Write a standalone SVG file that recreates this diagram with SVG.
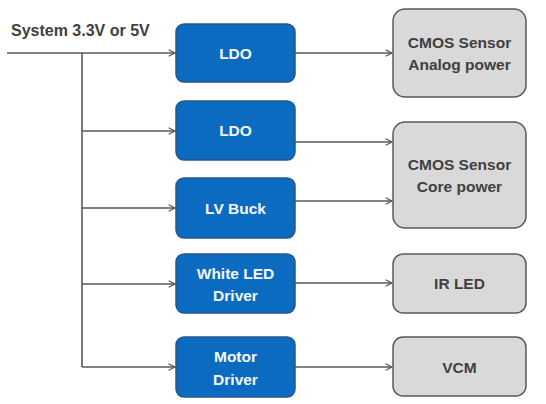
<svg xmlns="http://www.w3.org/2000/svg" width="546" height="404" viewBox="0 0 546 404">
<defs>
<style>
.blue{fill:#0b6bc0;stroke:#24578c;stroke-width:1.5}
.gray{fill:#d9d9d9;stroke:#595959;stroke-width:1.5}
.wt{fill:#f4f9ff;font-family:"Liberation Sans",Arial,sans-serif;font-weight:bold;font-size:15.5px;text-anchor:middle}
.gt{fill:#404040;font-family:"Liberation Sans",Arial,sans-serif;font-weight:bold;font-size:15.5px;text-anchor:middle}
.ln{fill:none;stroke:#595959;stroke-width:1.6}
</style>
<marker id="arr" viewBox="0 0 10 10" refX="9" refY="5" markerWidth="8" markerHeight="8" markerUnits="userSpaceOnUse" orient="auto">
<path d="M1,1 L9,5 L1,9" fill="none" stroke="#595959" stroke-width="1.5"/>
</marker>
</defs>
<rect width="546" height="404" fill="#ffffff"/>
<text x="11" y="36" style="fill:#404040;font-family:'Liberation Sans',Arial,sans-serif;font-weight:bold;font-size:16px">System 3.3V or 5V</text>
<g id="connectors">
<path class="ln" d="M7,53 H175" marker-end="url(#arr)"/>
<path class="ln" d="M82,53 V367"/>
<path class="ln" d="M82,131 H175" marker-end="url(#arr)"/>
<path class="ln" d="M82,208 H175" marker-end="url(#arr)"/>
<path class="ln" d="M82,284 H175" marker-end="url(#arr)"/>
<path class="ln" d="M82,367 H175" marker-end="url(#arr)"/>
<path class="ln" d="M295,53 H392" marker-end="url(#arr)"/>
<path class="ln" d="M295,142 H392" marker-end="url(#arr)"/>
<path class="ln" d="M295,201 H392" marker-end="url(#arr)"/>
<path class="ln" d="M295,283 H392" marker-end="url(#arr)"/>
<path class="ln" d="M295,367 H392" marker-end="url(#arr)"/>
</g>
<g id="ldo1"><rect class="blue" x="176" y="24" width="119" height="58" rx="8"/><text class="wt" x="235.5" y="59">LDO</text></g>
<g id="ldo2"><rect class="blue" x="176" y="101" width="119" height="59" rx="8"/><text class="wt" x="235.5" y="136">LDO</text></g>
<g id="lvbuck"><rect class="blue" x="176" y="178" width="119" height="60" rx="8"/><text class="wt" x="235.5" y="214">LV Buck</text></g>
<g id="wled"><rect class="blue" x="176" y="254" width="119" height="59" rx="8"/><text class="wt" x="235.5" y="279">White LED</text><text class="wt" x="235.5" y="301">Driver</text></g>
<g id="motor"><rect class="blue" x="176" y="337" width="119" height="60" rx="8"/><text class="wt" x="235.5" y="362">Motor</text><text class="wt" x="235.5" y="385">Driver</text></g>
<g id="analog"><rect class="gray" x="393" y="9" width="133" height="88" rx="12"/><text class="gt" x="459.5" y="48">CMOS Sensor</text><text class="gt" x="459.5" y="70">Analog power</text></g>
<g id="core"><rect class="gray" x="393" y="122" width="133" height="106" rx="12"/><text class="gt" x="459.5" y="170">CMOS Sensor</text><text class="gt" x="459.5" y="192">Core power</text></g>
<g id="irled"><rect class="gray" x="393" y="254" width="133" height="59" rx="10"/><text class="gt" x="459.5" y="289">IR LED</text></g>
<g id="vcm"><rect class="gray" x="393" y="337" width="133" height="59" rx="10"/><text class="gt" x="459.5" y="373">VCM</text></g>
</svg>
